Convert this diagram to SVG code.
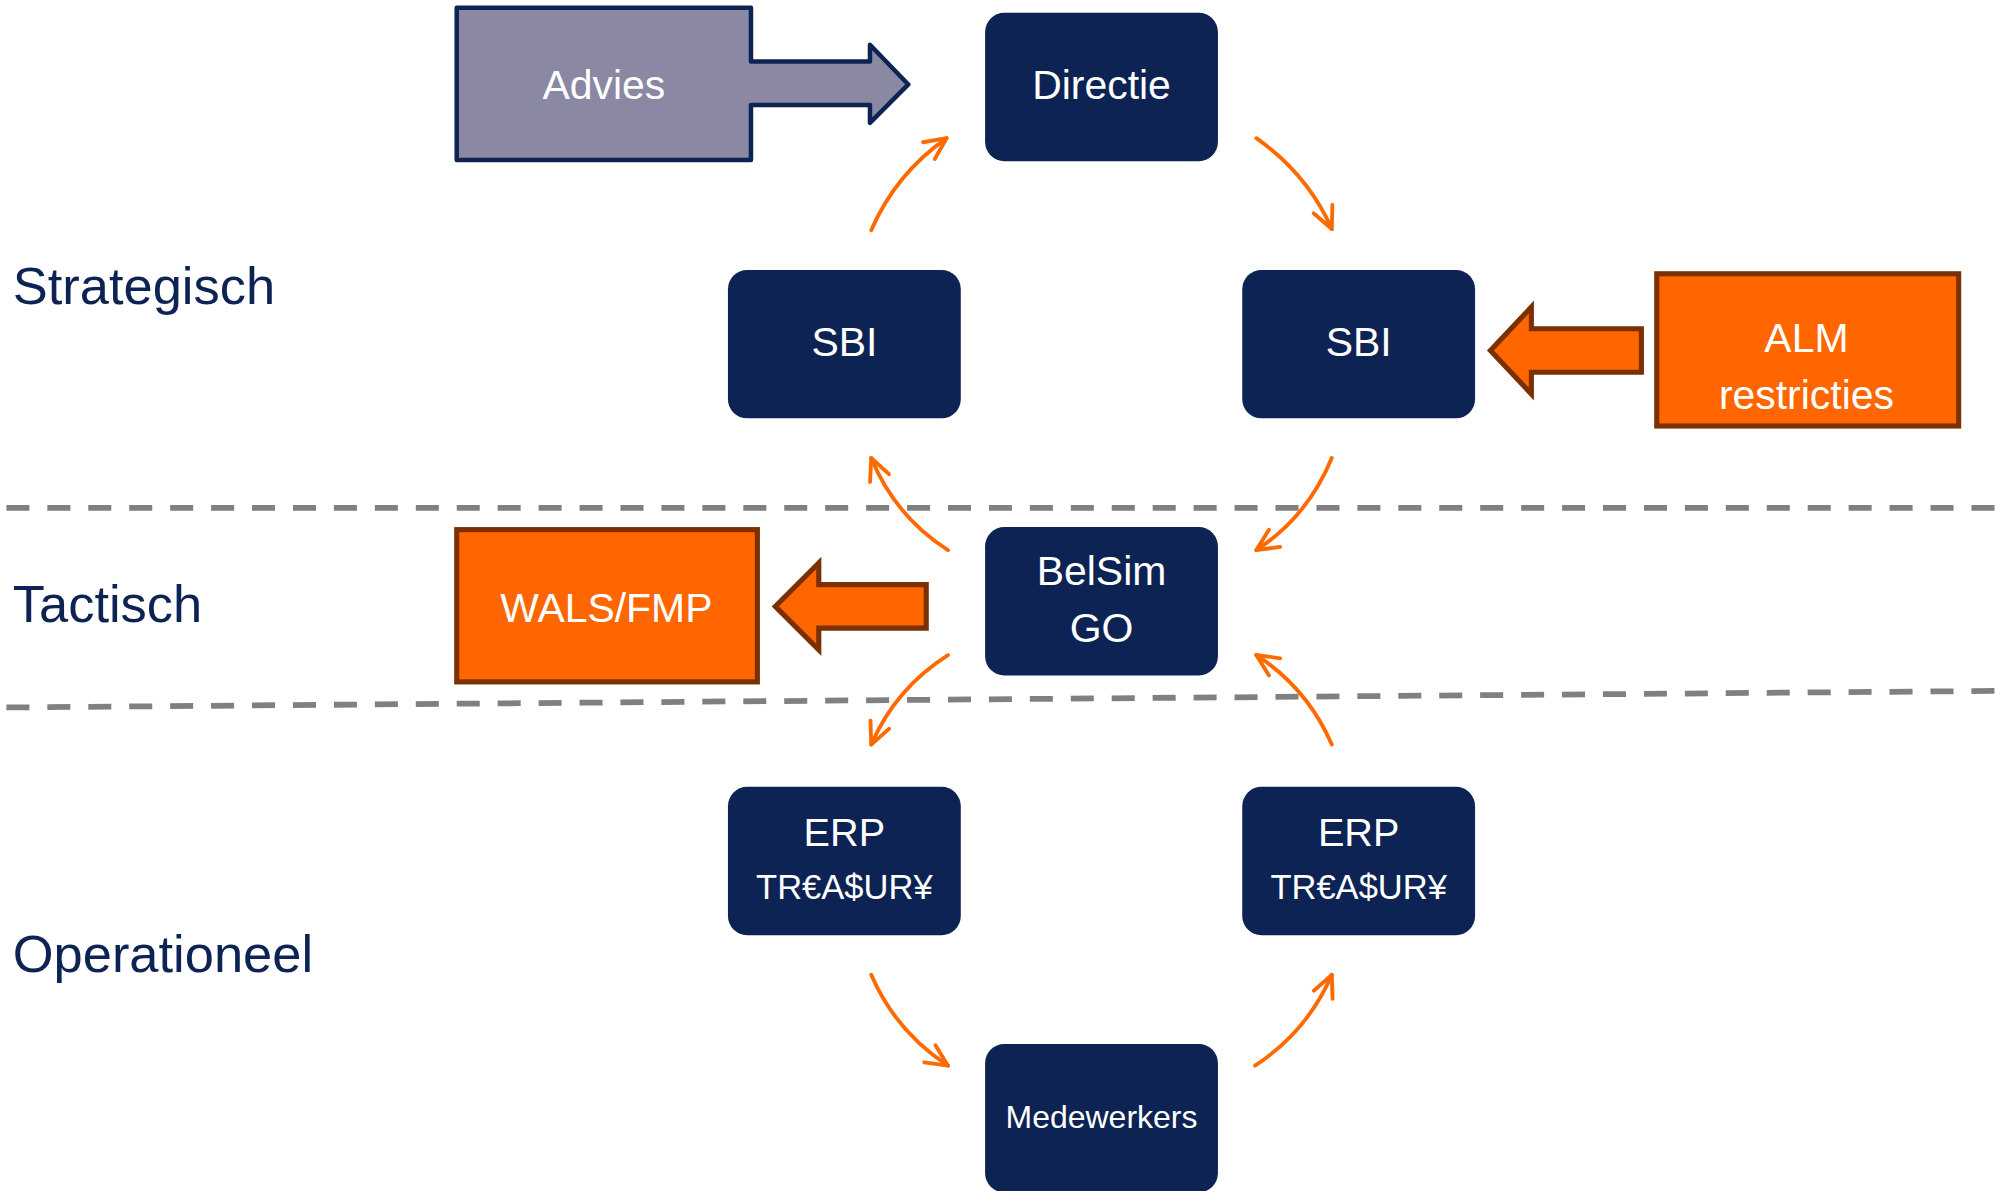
<svg xmlns="http://www.w3.org/2000/svg" width="2006" height="1191" viewBox="0 0 2006 1191">
<defs>
<style>
.node{fill:#0c2354}
.nt{fill:#ffffff;font-family:"Liberation Sans",Arial,sans-serif;text-anchor:middle}
.lbl{fill:#0c2354;font-family:"Liberation Sans",Arial,sans-serif;font-size:41px}
.org{fill:#ff6600;stroke:#7a3000;stroke-width:4;stroke-linejoin:miter}
.dash{stroke:#808080;stroke-width:4.5;stroke-dasharray:18 14;fill:none}
.flow{fill:none;stroke:#ff6a00;stroke-width:3;stroke-linecap:round;marker-end:url(#ah)}
</style>
<marker id="ah" markerUnits="userSpaceOnUse" viewBox="-20 -10 24 20" refX="0" refY="0" markerWidth="24" markerHeight="20" orient="auto">
<path d="M-17,-8 L0,0 L-17,8" fill="none" stroke="#ff6a00" stroke-width="3" stroke-linecap="round" stroke-linejoin="round"/>
</marker>
</defs>
<rect width="2006" height="1191" fill="#ffffff"/>
<g transform="scale(1.27934)">
<g id="lanes">
<line class="dash" x1="5" y1="397" x2="1568" y2="397"/>
<line class="dash" x1="5" y1="553" x2="1568" y2="540"/>
<text class="lbl" x="10" y="238">Strategisch</text>
<text class="lbl" x="10" y="486">Tactisch</text>
<text class="lbl" x="10" y="760">Operationeel</text>
</g>
<g id="connectors">
<path class="flow" d="M681,180 Q700,136 740,108"/>
<path class="flow" d="M982,108 Q1022,136 1041,179"/>
<path class="flow" d="M1041,358 Q1022,404 982,430"/>
<path class="flow" d="M741,430 Q700,404 681,358"/>
<path class="flow" d="M741,512 Q700,538 681,582"/>
<path class="flow" d="M1041,582 Q1022,538 982,512"/>
<path class="flow" d="M681,762 Q700,806 741,833"/>
<path class="flow" d="M981,833 Q1022,806 1041,762"/>
</g>
<g id="advies">
<path d="M357,6 L587,6 L587,48 L680,48 L680,35 L710,66 L680,96 L680,82 L587,82 L587,125 L357,125 Z" fill="#8a88a2" stroke="#0c2354" stroke-width="3.5" stroke-linejoin="round"/>
<text class="nt" x="472" y="77" font-size="32">Advies</text>
</g>
<g id="directie">
<rect class="node" x="770" y="10" width="182" height="116" rx="15"/>
<text class="nt" x="861" y="77" font-size="32">Directie</text>
</g>
<g id="sbi-left">
<rect class="node" x="569" y="211" width="182" height="116" rx="15"/>
<text class="nt" x="660" y="278" font-size="32">SBI</text>
</g>
<g id="sbi-right">
<rect class="node" x="971" y="211" width="182" height="116" rx="15"/>
<text class="nt" x="1062" y="278" font-size="32">SBI</text>
</g>
<g id="alm">
<rect class="org" x="1295" y="214" width="236" height="119"/>
<text class="nt" x="1412" y="275" font-size="32">ALM</text>
<text class="nt" x="1412" y="320" font-size="32">restricties</text>
<path class="org" d="M1283,257 L1197,257 L1197,240 L1165,274 L1197,308 L1197,291 L1283,291 Z"/>
</g>
<g id="belsim">
<rect class="node" x="770" y="412" width="182" height="116" rx="15"/>
<text class="nt" x="861" y="457" font-size="32">BelSim</text>
<text class="nt" x="861" y="502" font-size="32">GO</text>
</g>
<g id="wals">
<rect class="org" x="357" y="414" width="235" height="119"/>
<text class="nt" x="474" y="486" font-size="32">WALS/FMP</text>
<path class="org" d="M724,457 L640,457 L640,440 L606,474 L640,508 L640,491 L724,491 Z"/>
</g>
<g id="erp-left">
<rect class="node" x="569" y="615" width="182" height="116" rx="15"/>
<text class="nt" x="660" y="661" font-size="31">ERP</text>
<text class="nt" x="660" y="703" font-size="27">TR€A$UR¥</text>
</g>
<g id="erp-right">
<rect class="node" x="971" y="615" width="182" height="116" rx="15"/>
<text class="nt" x="1062" y="661" font-size="31">ERP</text>
<text class="nt" x="1062" y="703" font-size="27">TR€A$UR¥</text>
</g>
<g id="medewerkers">
<rect class="node" x="770" y="816" width="182" height="116" rx="15"/>
<text class="nt" x="861" y="882" font-size="25">Medewerkers</text>
</g>
</g>
</svg>
